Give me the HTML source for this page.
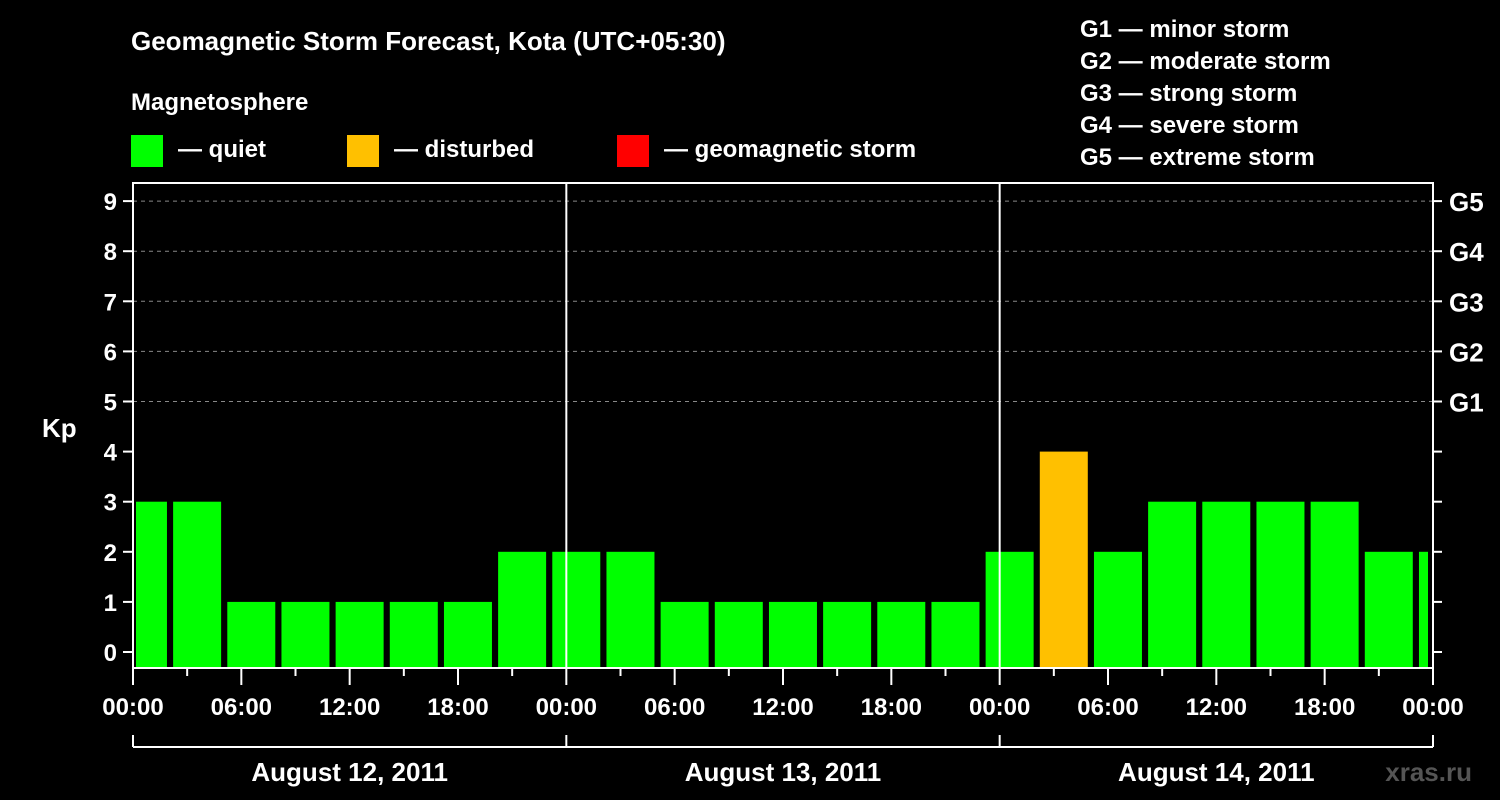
<!DOCTYPE html>
<html><head><meta charset="utf-8"><style>
html,body{margin:0;background:#000;}
svg{display:block;font-family:"Liberation Sans",Arial,sans-serif;font-weight:bold;}
</style></head><body>
<svg id="chart" width="1500" height="800" viewBox="0 0 1500 800">
<rect width="1500" height="800" fill="#000"/>
<text x="131" y="50" fill="#fff" font-size="26">Geomagnetic Storm Forecast, Kota (UTC+05:30)</text>
<text x="131" y="110" fill="#fff" font-size="24">Magnetosphere</text>
<g><rect x="131" y="135" width="32" height="32" fill="#00ff00"/><text x="178" y="157" fill="#fff" font-size="24">— quiet</text></g>
<g><rect x="347" y="135" width="32" height="32" fill="#ffc000"/><text x="394" y="157" fill="#fff" font-size="24">— disturbed</text></g>
<g><rect x="617" y="135" width="32" height="32" fill="#ff0000"/><text x="664" y="157" fill="#fff" font-size="24">— geomagnetic storm</text></g>
<g fill="#fff" font-size="24">
<text x="1080" y="37">G1 — minor storm</text>
<text x="1080" y="69">G2 — moderate storm</text>
<text x="1080" y="101">G3 — strong storm</text>
<text x="1080" y="133">G4 — severe storm</text>
<text x="1080" y="165">G5 — extreme storm</text>
</g>
<text x="42" y="437" fill="#fff" font-size="26">Kp</text>
<text x="1472" y="781" fill="#555" font-size="26" text-anchor="end">xras.ru</text>
<g id="grid"></g><g id="bars"></g><g id="axes"></g>
</svg>
<script>
const kpValues=[3,3,1,1,1,1,1,2,2,2,1,1,1,1,1,1,2,4,2,3,3,3,3,2,2];
const yTicks=[0,1,2,3,4,5,6,7,8,9];
const gLabels=["G1","G2","G3","G4","G5"];
const hourLabels=["00:00","06:00","12:00","18:00"];
const dayLabels=["August 12, 2011","August 13, 2011","August 14, 2011"];
const NS="http://www.w3.org/2000/svg";
const X0=133,X1=1433,Y0=668,YT=183;
const dayW=(X1-X0)/3;
const hx=h=>X0+h*dayW/24;
const yv=v=>652-v*50.1;
function mk(t,a,p){const e=document.createElementNS(NS,t);for(const k in a)e.setAttribute(k,a[k]);p.appendChild(e);return e;}
const grid=document.getElementById('grid'),bars=document.getElementById('bars'),axes=document.getElementById('axes');
yTicks.forEach(v=>{
 if(v>=5){const l=mk('line',{x1:X0,x2:X1,y1:yv(v),y2:yv(v),stroke:'#888','stroke-dasharray':'4,4','stroke-width':1},grid);
 
 }
 mk('line',{x1:X0-10,x2:X0,y1:yv(v),y2:yv(v),stroke:'#fff','stroke-width':2},axes);
 mk('line',{x1:X1,x2:X1+9,y1:yv(v),y2:yv(v),stroke:'#fff','stroke-width':2},axes);
 const t=mk('text',{x:X0-16,y:yv(v)+9,fill:'#fff','font-size':24,'text-anchor':'end'},axes);t.textContent=v;
 
 
});
gLabels.forEach((g,i)=>{const t=mk('text',{x:1449,y:yv(i+5)+10,fill:'#fff','font-size':26},axes);t.textContent=g;
 
 });
kpValues.forEach((v,i)=>{
 let x=hx(-0.75+3*i)-0.5, w=48;
 let xe=x+w; if(x<X0+3)x=X0+3; if(xe>X1-5)xe=X1-5;
 const c=v>=5?'#ff0000':(v>=4?'#ffc000':'#00ff00');
 const r=mk('rect',{x:x,y:yv(v),width:xe-x,height:Y0-yv(v),fill:c},bars);
 
 
});
// day dividers
[1,2].forEach(d=>mk('line',{x1:X0+d*dayW,x2:X0+d*dayW,y1:YT,y2:Y0,stroke:'#fff','stroke-width':2},axes));
mk('rect',{x:X0,y:YT,width:X1-X0,height:Y0-YT,fill:'none',stroke:'#fff','stroke-width':2},axes);
for(let h=0;h<=72;h+=3){const big=h%6===0;mk('line',{x1:hx(h),x2:hx(h),y1:Y0,y2:Y0+(big?17:8),stroke:'#fff','stroke-width':2},axes);}
for(let d=0;d<=3;d++)for(let k=0;k<4;k++){if(d===3&&k>0)break;
 const t=mk('text',{x:hx(d*24+k*6),y:715,fill:'#fff','font-size':24,'text-anchor':'middle'},axes);t.textContent=hourLabels[k];
 
 }
mk('line',{x1:X0,x2:X1,y1:747,y2:747,stroke:'#fff','stroke-width':2},axes);
for(let d=0;d<=3;d++)mk('line',{x1:X0+d*dayW,x2:X0+d*dayW,y1:735,y2:747,stroke:'#fff','stroke-width':2},axes);
dayLabels.forEach((s,d)=>{const t=mk('text',{x:X0+(d+0.5)*dayW,y:781,fill:'#fff','font-size':26,'text-anchor':'middle'},axes);t.textContent=s;
 
 });
</script>
</body></html>
